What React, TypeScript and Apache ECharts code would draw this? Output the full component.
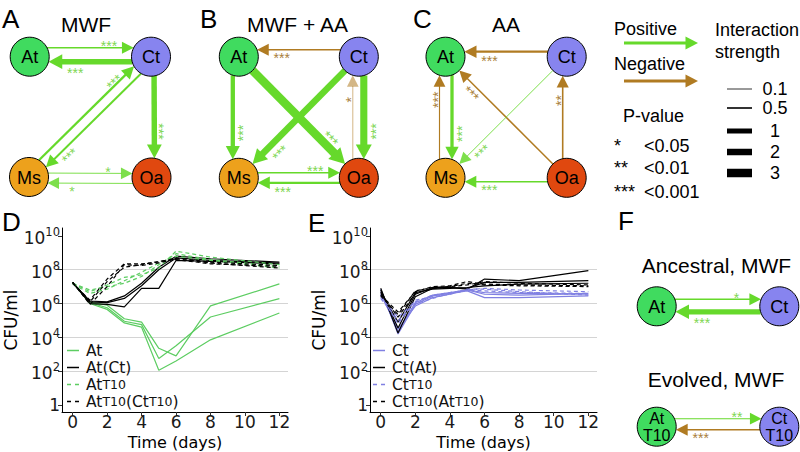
import React, { useEffect, useRef } from "react";
import * as echarts from "echarts";

// ---------- Panel D / E data (log10 CFU/ml) ----------
const DAYS = [0, 1, 2, 3, 4, 5, 6, 8, 12];
const Y_TICKS = [0, 2, 4, 6, 8, 10];
const X_TICKS = [0, 2, 4, 6, 8, 10, 12];

const D_AT = [
  [7.25, 6.1, 5.9, 5.1, 4.9, 3.35, 2.9, 5.86, 7.16],
  [7.25, 6.05, 5.75, 4.95, 4.75, 2.75, 3.5, 5.2, 6.29],
  [7.25, 6.0, 5.65, 4.85, 4.6, 2.05, 2.6, 3.85, 5.44],
];
const D_AT_CT = [
  [7.25, 6.0, 5.95, 5.8, 6.9, 6.9, 8.55, 8.5, 8.35],
  [7.25, 6.1, 6.05, 6.3, 7.05, 8.0, 8.7, 8.55, 8.4],
  [7.2, 6.15, 6.1, 6.45, 7.2, 8.15, 8.8, 8.65, 8.45],
];
const D_ATT10 = [
  [7.2, 6.7, 7.1, 7.55, 7.7, 8.1, 9.1, 8.75, 8.3],
  [7.2, 6.8, 7.0, 7.2, 7.6, 8.3, 8.95, 8.6, 8.2],
  [7.15, 6.6, 6.85, 7.35, 7.85, 8.4, 8.8, 8.55, 8.1],
];
const D_ATT10_CTT10 = [
  [7.25, 5.95, 7.0, 8.3, 8.25, 8.4, 8.65, 8.4, 8.1],
  [7.25, 6.1, 7.3, 8.15, 8.3, 8.5, 8.6, 8.35, 8.2],
  [7.2, 6.2, 7.45, 8.35, 8.35, 8.45, 8.7, 8.45, 8.25],
];

const E_CT = [
  [6.85, 4.2, 5.95, 6.45, 6.6, 6.75, 6.35, 6.35, 6.45],
  [6.7, 4.35, 6.05, 6.5, 6.65, 6.8, 6.55, 6.5, 6.6],
  [6.55, 4.5, 5.85, 6.35, 6.55, 6.8, 6.65, 6.6, 6.55],
];
const E_CT_AT = [
  [6.9, 4.25, 6.4, 6.9, 6.95, 6.85, 7.45, 7.35, 7.95],
  [6.8, 4.55, 6.55, 6.95, 6.95, 6.9, 7.25, 7.25, 7.35],
  [6.7, 4.9, 6.65, 6.85, 6.9, 6.95, 7.05, 7.15, 7.2],
];
const E_CTT10 = [
  [6.5, 4.8, 6.2, 6.4, 6.55, 6.8, 6.75, 6.65, 6.6],
  [6.3, 5.0, 6.0, 6.3, 6.6, 6.85, 6.85, 6.7, 6.5],
  [6.4, 5.2, 6.1, 6.5, 6.65, 6.8, 6.9, 6.8, 6.7],
];
const E_CTT10_ATT10 = [
  [6.6, 5.2, 6.6, 6.9, 7.0, 7.2, 7.1, 7.05, 7.0],
  [6.5, 5.5, 6.7, 7.0, 7.05, 7.3, 7.15, 7.1, 7.05],
  [6.45, 5.35, 6.75, 6.95, 7.0, 7.1, 7.3, 7.2, 7.1],
];

const D_LEGEND = ["At", "At(Ct)", "AtT10", "AtT10(CtT10)"];
const E_LEGEND = ["Ct", "Ct(At)", "CtT10", "CtT10(AtT10)"];

// ---------- Network data ----------
const EDGES_A = [
  { from: "At", to: "Ct", sign: 1, strength: 0.45, p: "***" },
  { from: "Ct", to: "At", sign: 1, strength: 1.3, p: "***" },
  { from: "Ms", to: "Ct", sign: 1, strength: 0.6, p: "***" },
  { from: "Ct", to: "Ms", sign: 1, strength: 0.55, p: "***" },
  { from: "Ct", to: "Oa", sign: 1, strength: 1.3, p: "***" },
  { from: "Ms", to: "Oa", sign: 1, strength: 0.1, p: "*" },
  { from: "Oa", to: "Ms", sign: 1, strength: 0.1, p: "*" },
];
const EDGES_B = [
  { from: "Ct", to: "At", sign: -1, strength: 0.45, p: "***" },
  { from: "At", to: "Ms", sign: 1, strength: 0.9, p: "***" },
  { from: "Ct", to: "Ms", sign: 1, strength: 2, p: "***" },
  { from: "At", to: "Oa", sign: 1, strength: 3, p: "***" },
  { from: "Ct", to: "Oa", sign: 1, strength: 2.3, p: "***" },
  { from: "Oa", to: "Ct", sign: -1, strength: 0.1, p: "*" },
  { from: "Ms", to: "Oa", sign: 1, strength: 0.4, p: "***" },
  { from: "Oa", to: "Ms", sign: 1, strength: 0.6, p: "***" },
];
const EDGES_C = [
  { from: "Ct", to: "At", sign: -1, strength: 0.6, p: "***" },
  { from: "At", to: "Ms", sign: 1, strength: 0.75, p: "***" },
  { from: "Ms", to: "At", sign: -1, strength: 0.2, p: "***" },
  { from: "Oa", to: "At", sign: -1, strength: 0.4, p: "***" },
  { from: "Ct", to: "Ms", sign: 1, strength: 0.1, p: "***" },
  { from: "Oa", to: "Ms", sign: 1, strength: 0.4, p: "***" },
  { from: "Oa", to: "Ct", sign: -1, strength: 0.5, p: "**" },
];
const EDGES_F_ANC = [
  { from: "At", to: "Ct", sign: 1, strength: 0.4, p: "*" },
  { from: "Ct", to: "At", sign: 1, strength: 1.1, p: "***" },
];
const EDGES_F_EVO = [
  { from: "At", to: "Ct", sign: 1, strength: 0.2, p: "**" },
  { from: "Ct", to: "At", sign: -1, strength: 0.4, p: "***" },
];

const STRENGTH_TICKS = [0.1, 0.5, 1, 2, 3];
const P_LEVELS = [
  ["*", "<0.05"],
  ["**", "<0.01"],
  ["***", "<0.001"],
];

// ---------- Layout / style ----------
const R = 19.5;
const POS_A: Record<string, number[]> = { At: [29.7, 56.7], Ct: [151, 56.7], Ms: [29, 177], Oa: [151.5, 177.5] };
const POS_B: Record<string, number[]> = { At: [238.8, 56.7], Ct: [358.8, 56.7], Ms: [238.8, 177.8], Oa: [358.8, 177.8] };
const POS_C: Record<string, number[]> = { At: [445.5, 56.7], Ct: [566.7, 56.7], Ms: [445.5, 177.8], Oa: [566.7, 177.8] };
const POS_F1: Record<string, number[]> = { At: [656.7, 306.3], Ct: [779.3, 306.3] };
const POS_F2: Record<string, number[]> = { At: [656.7, 426.7], Ct: [779.3, 426.7] };

const OFF_A: Record<string, number> = { "At>Ct": 9, "Ct>At": 5, "Ms>Ct": 5, "Ct>Ms": 5, "Ct>Oa": 3, "Ms>Oa": 4, "Oa>Ms": 6 };
const OFF_B: Record<string, number> = { "Ct>At": -7, "At>Ms": -6, "Ct>Ms": 0, "At>Oa": 0, "Ct>Oa": 5, "Oa>Ct": 6, "Ms>Oa": 5, "Oa>Ms": 5 };
const OFF_C: Record<string, number> = { "Ct>At": -5, "At>Ms": 6.5, "Ms>At": 6, "Oa>At": 0, "Ct>Ms": 0, "Oa>Ms": 4, "Oa>Ct": 4 };
const OFF_F1: Record<string, number> = { "At>Ct": 7, "Ct>At": 5.5 };
const OFF_F2: Record<string, number> = { "At>Ct": 8, "Ct>At": 3 };

const STRENGTH_WIDTHS = [1, 1.6, 5, 6.5, 8.5];
const NODE_COLORS: Record<string, string> = { At: "#40db5f", Ct: "#8784ef", Ms: "#eda11c", Oa: "#e0480f" };
const POS_COLOR = "#66d92b";
const NEG_COLOR = "#b07b22";
const POS_STAR = "#80d653";
const NEG_STAR = "#a9803a";
const D_GREEN = "#5dcd62";
const E_BLUE = "#8080e2";
const SANS = "'Liberation Sans', Arial, Helvetica, sans-serif";
const DV = "'DejaVu Sans', sans-serif";
const ICON_SOLID = "path://M0,0H12V1.5H0Z";
const ICON_DASH = "path://M0,0H4V1.5H0Z M8,0H12V1.5H8Z";

function widthOf(s: number) {
  if (s <= STRENGTH_TICKS[0]) return STRENGTH_WIDTHS[0];
  for (let i = 1; i < STRENGTH_TICKS.length; i++) {
    if (s <= STRENGTH_TICKS[i]) {
      const t = (s - STRENGTH_TICKS[i - 1]) / (STRENGTH_TICKS[i] - STRENGTH_TICKS[i - 1]);
      return STRENGTH_WIDTHS[i - 1] + t * (STRENGTH_WIDTHS[i] - STRENGTH_WIDTHS[i - 1]);
    }
  }
  return STRENGTH_WIDTHS[STRENGTH_WIDTHS.length - 1];
}

function txt(text: string, x: number, y: number, size: number, o: any = {}) {
  const align = o.align || "left";
  return {
    type: "text",
    x,
    y,
    rotation: o.rotation || 0,
    silent: true,
    style: {
      text,
      x: 0,
      y: 0,
      fill: o.color || "#000",
      fontSize: size,
      fontFamily: o.family || SANS,
      fontWeight: "normal",
      align,
      verticalAlign: "middle",
      textAlign: align,
      textVerticalAlign: "middle",
      lineHeight: o.lineHeight,
    },
  };
}

function arrow(x1: number, y1: number, x2: number, y2: number, w: number, color: string, opacity = 1) {
  const dx = x2 - x1, dy = y2 - y1, len = Math.hypot(dx, dy);
  const ux = dx / len, uy = dy / len;
  const L = 11 + w * 0.5, H = 5.5 + w * 0.35;
  const bx = x2 - ux * L, by = y2 - uy * L;
  const nx = -uy, ny = ux;
  return [
    { type: "line", silent: true, shape: { x1, y1, x2: bx + ux * 0.8, y2: by + uy * 0.8 }, style: { stroke: color, lineWidth: w, opacity } },
    { type: "polygon", silent: true, shape: { points: [[x2, y2], [bx + nx * H, by + ny * H], [bx - nx * H, by - ny * H]] }, style: { fill: color, opacity } },
  ];
}

function network(pos: Record<string, number[]>, edges: any[], offs: Record<string, number>, labels: Record<string, string[]> = {}) {
  const els: any[] = [];
  edges.forEach((e) => {
    const [ax, ay] = pos[e.from];
    const [bx, by] = pos[e.to];
    const dx = bx - ax, dy = by - ay, len = Math.hypot(dx, dy);
    const ux = dx / len, uy = dy / len;
    const lx = uy, ly = -ux;
    const off = offs[e.from + ">" + e.to] || 0;
    const along = Math.sqrt(R * R - off * off);
    const sx = ax + lx * off + ux * along, sy = ay + ly * off + uy * along;
    const tx = bx + lx * off - ux * along, ty = by + ly * off - uy * along;
    const w = widthOf(e.strength);
    const color = e.sign > 0 ? POS_COLOR : NEG_COLOR;
    const op = e.strength <= 0.1 && e.sign < 0 ? 0.55 : e.strength <= 0.1 ? 0.85 : 1;
    els.push(...arrow(sx, sy, tx, ty, w, color, op));
    const L = 11 + w * 0.5;
    const dTip = 13 + L;
    const side = w / 2 + 4 + w * 0.25;
    const px = tx - ux * dTip + lx * side, py = ty - uy * dTip + ly * side;
    let ang = Math.atan2(-dy, dx);
    if (ang > Math.PI / 2 + 1e-6) ang -= Math.PI;
    if (ang <= -Math.PI / 2 + 1e-6) ang += Math.PI;
    const sh = 3.3;
    els.push(txt(e.p, px + Math.sin(ang) * sh, py + Math.cos(ang) * sh, 14, {
      align: "center", rotation: ang, color: e.sign > 0 ? POS_STAR : NEG_STAR,
    }));
  });
  Object.keys(pos).forEach((n) => {
    const [cx, cy] = pos[n];
    els.push({ type: "circle", silent: true, shape: { cx, cy, r: R }, style: { fill: NODE_COLORS[n], stroke: "#000", lineWidth: 1 } });
    const lab = labels[n];
    if (lab) {
      els.push(txt(lab[0], cx, cy - 8.3, 16, { align: "center", lineHeight: 16 }));
      els.push(txt(lab[1], cx, cy + 8.3, 16, { align: "center", lineHeight: 16 }));
    } else {
      els.push(txt(n, cx, cy + 0.5, 18, { align: "center" }));
    }
  });
  return els;
}

function lines(name: string, reps: number[][], color: string, dashed: boolean, idx: number) {
  return reps.map((r) => ({
    type: "line",
    name,
    xAxisIndex: idx,
    yAxisIndex: idx,
    symbol: "none",
    silent: true,
    data: DAYS.map((d, i) => [d, r[i]]),
    lineStyle: { color, width: 1.2, type: dashed ? [4, 3] : "solid" },
    itemStyle: { color },
  }));
}

const fmtY = (v: number) => {
  const r = Math.round(v);
  if (Math.abs(v - r) > 1e-6 || !Y_TICKS.includes(r)) return "";
  return r === 0 ? "{m|1}" : `{n|10}{s|${r}}`;
};
const fmtX = (v: number) => {
  const r = Math.round(v);
  if (Math.abs(v - r) > 1e-6 || !X_TICKS.includes(r)) return "";
  return String(r);
};

function xAxis(i: number) {
  return {
    gridIndex: i, type: "value", min: -0.62, max: 12.5, splitNumber: 6,
    axisLine: { show: true, onZero: false, lineStyle: { color: "#000", width: 1 } },
    axisTick: { show: true, length: 4, customValues: X_TICKS, lineStyle: { color: "#333" } },
    axisLabel: { margin: 2, color: "#1a1a1a", fontSize: 17, fontFamily: DV, lineHeight: 16, formatter: fmtX },
    splitLine: { show: false },
  };
}
function yAxis(i: number) {
  return {
    gridIndex: i, type: "value", min: -0.42, max: 10.47, splitNumber: 5,
    axisLine: { show: true, onZero: false, lineStyle: { color: "#000", width: 1 } },
    axisTick: { show: true, length: 4, customValues: Y_TICKS, lineStyle: { color: "#333" } },
    axisLabel: {
      margin: 2, color: "#1a1a1a", formatter: fmtY,
      rich: {
        m: { fontSize: 17, fontFamily: DV, color: "#1a1a1a" },
        n: { fontSize: 17, fontFamily: DV, color: "#1a1a1a", padding: [4, 0, 0, 0] },
        s: { fontSize: 11.5, fontFamily: DV, color: "#1a1a1a", padding: [0, 0, 8, 0] },
      },
    },
    splitLine: { show: true, showMinLine: false, showMaxLine: false, lineStyle: { color: "#d4d4d4", width: 1.2 } },
    name: "CFU/ml", nameLocation: "middle", nameGap: 40,
    nameTextStyle: { fontFamily: DV, fontSize: 17, fontWeight: "normal", color: "#000" },
  };
}
function legend(names: string[], left: number) {
  return {
    data: names.map((n, i) => ({ name: n, icon: i >= 2 ? ICON_DASH : ICON_SOLID })),
    orient: "vertical", left, top: 342, itemGap: 0, itemWidth: 12, itemHeight: 1.5,
    padding: 0, selectedMode: false,
    formatter: (n: string) => n.replace(/T10/g, "{s|T10}"),
    textStyle: {
      fontFamily: DV, fontSize: 15.5, color: "#111", lineHeight: 17, padding: [0, 0, 0, 2],
      rich: { s: { fontFamily: DV, fontSize: 12.5, color: "#111", lineHeight: 17 } },
    },
  };
}

function buildGraphic() {
  const els: any[] = [];
  // panel letters & titles
  els.push(txt("A", 2, 19, 26));
  els.push(txt("B", 200, 19, 26));
  els.push(txt("C", 413, 19, 26));
  els.push(txt("D", 2, 222, 26));
  els.push(txt("E", 308, 223, 26));
  els.push(txt("F", 618, 221, 26));
  els.push(txt("MWF", 86, 24, 21, { align: "center" }));
  els.push(txt("MWF + AA", 297.5, 24, 21, { align: "center" }));
  els.push(txt("AA", 506, 24.5, 21, { align: "center" }));
  els.push(txt("Ancestral, MWF", 716.5, 265, 21, { align: "center" }));
  els.push(txt("Evolved, MWF", 716, 379, 21, { align: "center" }));
  // x-axis titles of D and E
  els.push(txt("Time (days)", 175, 442, 16, { align: "center", family: DV, lineHeight: 16 }));
  els.push(txt("Time (days)", 483.5, 442, 16, { align: "center", family: DV, lineHeight: 16 }));
  // networks
  els.push(...network(POS_A, EDGES_A, OFF_A));
  els.push(...network(POS_B, EDGES_B, OFF_B));
  els.push(...network(POS_C, EDGES_C, OFF_C));
  els.push(...network(POS_F1, EDGES_F_ANC, OFF_F1));
  els.push(...network(POS_F2, EDGES_F_EVO, OFF_F2, { At: ["At", "T10"], Ct: ["Ct", "T10"] }));
  // sign legend
  els.push(txt("Positive", 614, 29, 18));
  els.push(...arrow(624, 43, 698, 43, 3, POS_COLOR));
  els.push(txt("Negative", 614, 64, 18));
  els.push(...arrow(624, 81, 698, 81, 3, NEG_COLOR));
  // strength legend
  els.push(txt("Interaction", 715, 30, 18));
  els.push(txt("strength", 715, 52, 18));
  const sy = [89, 108, 131, 152, 173];
  STRENGTH_TICKS.forEach((s, i) => {
    els.push({ type: "line", silent: true, shape: { x1: 727, y1: sy[i], x2: 752, y2: sy[i] }, style: { stroke: "#000", lineWidth: widthOf(s) * (i === 0 ? 0.8 : 1) } });
    els.push(txt(String(s), 775, sy[i], 18, { align: "center" }));
  });
  // p-value legend
  els.push(txt("P-value", 623, 116, 18));
  const py = [146, 168, 192];
  P_LEVELS.forEach(([st, lab], i) => {
    els.push(txt(st, 614, py[i], 18));
    els.push(txt(lab, 644, py[i], 18));
  });
  return els;
}

export default function App() {
  const ref = useRef<HTMLDivElement>(null);
  useEffect(() => {
    if (!ref.current) return;
    const chart = echarts.init(ref.current, null, { renderer: "svg" });
    const series = [
      ...lines("At", D_AT, D_GREEN, false, 0),
      ...lines("At(Ct)", D_AT_CT, "#000", false, 0),
      ...lines("AtT10", D_ATT10, D_GREEN, true, 0),
      ...lines("AtT10(CtT10)", D_ATT10_CTT10, "#000", true, 0),
      ...lines("Ct", E_CT, E_BLUE, false, 1),
      ...lines("Ct(At)", E_CT_AT, "#000", false, 1),
      ...lines("CtT10", E_CTT10, E_BLUE, true, 1),
      ...lines("CtT10(AtT10)", E_CTT10_ATT10, "#000", true, 1),
    ];
    chart.setOption({
      animation: false,
      backgroundColor: "#fff",
      grid: [
        { left: 62, right: 512, top: 228, bottom: 40, outerBoundsMode: "none", containLabel: false },
        { left: 370, right: 203, top: 228, bottom: 40, outerBoundsMode: "none", containLabel: false },
      ],
      xAxis: [xAxis(0), xAxis(1)],
      yAxis: [yAxis(0), yAxis(1)],
      legend: [legend(D_LEGEND, 67), legend(E_LEGEND, 373)],
      series,
      graphic: { elements: buildGraphic() },
    } as any);
    return () => chart.dispose();
  }, []);
  return <div ref={ref} style={{ position: "absolute", left: 0, top: 0, width: 800, height: 452 }} />;
}
